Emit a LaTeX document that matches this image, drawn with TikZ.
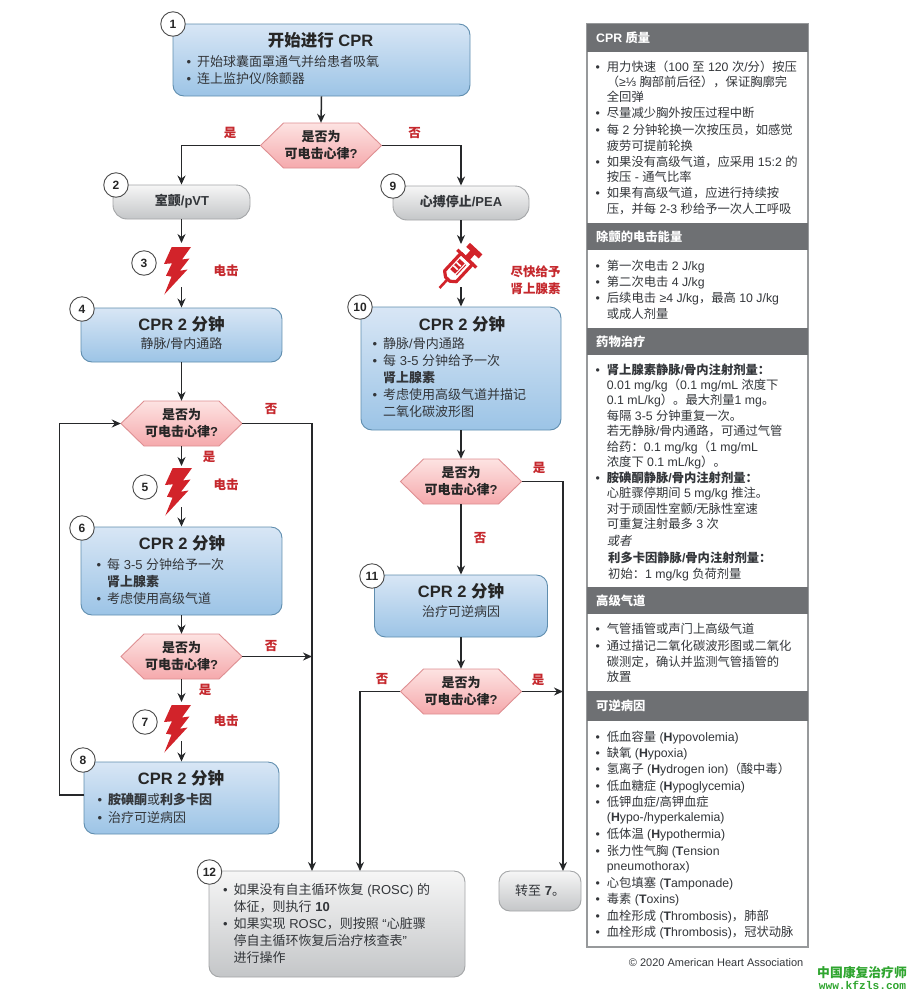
\documentclass[tikz,border=0pt]{standalone}
\usepackage{fontspec}
\setmainfont{Liberation Sans}
\setmonofont{Liberation Mono}
\newfontfamily\cjk{Noto Sans CJK SC}[AutoFakeSlant=0.2]
\usetikzlibrary{arrows.meta}
% automatic font switch for CJK characters
\chardef\cjkcls=7
\newcount\cjkc
\cjkc="2E80 \loop \XeTeXcharclass\cjkc=\cjkcls \advance\cjkc 1 \ifnum\cjkc<"A000 \repeat
\cjkc="FF00 \loop \XeTeXcharclass\cjkc=\cjkcls \advance\cjkc 1 \ifnum\cjkc<"FFF0 \repeat
\XeTeXinterchartoks 0 \cjkcls={\cjk}
\XeTeXinterchartoks 4095 \cjkcls={\cjk}
\XeTeXinterchartoks \cjkcls 0 ={\rmfamily}
\XeTeXinterchartoks \cjkcls 4095 ={\rmfamily}
\XeTeXinterchartokenstate=1

\definecolor{ink}{HTML}{33363A}
\definecolor{linec}{HTML}{26282A}
\definecolor{redt}{HTML}{C5282D}
\definecolor{bolt}{HTML}{D2232A}
\definecolor{headc}{HTML}{6E7073}
\definecolor{panelb}{HTML}{97999B}
\definecolor{wmk}{HTML}{2FA52F}
\definecolor{bt}{HTML}{D8E6F5}\definecolor{bm}{HTML}{C4DBF0}\definecolor{bb}{HTML}{9CC4E6}\definecolor{bd}{HTML}{5F8DAE}
\definecolor{gt}{HTML}{F6F6F6}\definecolor{gm}{HTML}{E6E7E8}\definecolor{gb}{HTML}{C4C6C8}\definecolor{gd}{HTML}{A3A5A7}
\definecolor{rt}{HTML}{FDE3E2}\definecolor{rb}{HTML}{F5A9AC}\definecolor{rd}{HTML}{DE8F92}

\tikzset{
  x=1pt,y=-1pt,
  conn/.style={draw=linec,line width=1.5pt,-{Stealth[length=9pt,width=8pt]}},
  blueb/.style={draw=bd,line width=.9pt,rounded corners=11pt,top color=bt,middle color=bm,bottom color=bb,inner sep=0pt},
  grayb/.style={draw=gd,line width=.9pt,rounded corners=11pt,top color=gt,middle color=gm,bottom color=gb,inner sep=0pt},
  pillb/.style={draw=gd,line width=.9pt,rounded corners=14pt,top color=gt,middle color=gm,bottom color=gb,inner sep=0pt},
  hexf/.style={draw=rd,line width=.9pt,top color=rt,bottom color=rb},
  hext/.style={inner sep=0pt,minimum width=121pt,minimum height=45pt,align=center,text=black!85,font=\fontsize{13}{17}\selectfont\bfseries},
  num/.style={circle,draw=black!70,fill=white,line width=.9pt,minimum size=24.5pt,inner sep=0pt,text=black!85,font=\fontsize{12}{12}\selectfont\bfseries},
  body/.style={anchor=base west,inner sep=0pt,text=ink,font=\fontsize{13}{15}\selectfont},
  mid/.style={anchor=base,inner sep=0pt,text=ink,font=\fontsize{13}{15}\selectfont},
  bhead/.style={anchor=base,inner sep=0pt,text=black!85,font=\fontsize{16.5}{18}\selectfont\bfseries},
  redl/.style={anchor=base,inner sep=0pt,text=redt,font=\fontsize{12.5}{15}\selectfont\bfseries},
  side/.style={anchor=base west,inner sep=0pt,text=ink,font=\fontsize{12.3}{15}\selectfont},
  head/.style={anchor=base west,inner sep=0pt,text=white,font=\fontsize{12.3}{15}\selectfont\bfseries},
}
\newcounter{tn}
% text helpers: #1 style, x, y (visual centre of the line)
\newcommand\tx[4]{\stepcounter{tn}\node[#1] (t\arabic{tn}) at ({#2},{#3+4.6}) {#4};}
\newcommand\sln[2]{\tx{side}{606.7}{#1}{#2}}
\newcommand\sbl[2]{\tx{side}{595.5}{#1}{•}\tx{side}{606.7}{#1}{#2}}
\newcommand\mbl[3]{\tx{body}{#1-10.5}{#2}{•}\tx{body}{#1}{#2}{#3}}
\newcommand\hdr[3]{\fill[headc] (587,#1) rectangle (808,#2); \tx{head}{596}{(#1+#2)/2}{#3}}
% box: style,name,x1,y1,x2,y2
\newcommand\bx[6]{\node[#1,minimum width=(#5-#3)*1pt,minimum height=(#6-#4)*1pt] (#2) at ({(#3+#5)/2},{(#4+#6)/2}) {};}
% hexagon: name,cx,cy,text
\newcommand\hx[4]{\path[hexf] (#2-60.5,#3) -- (#2-37.5,#3-22.5) -- (#2+37.5,#3-22.5) -- (#2+60.5,#3) -- (#2+37.5,#3+22.5) -- (#2-37.5,#3+22.5) -- cycle;
  \node[hext] (#1) at (#2,#3) {#4};}
\newcommand\nm[4]{\node[num] (#1) at (#2,#3) {#4};}
\newcommand\bolticon[2]{\fill[bolt,shift={(#1,#2)}] (7.7,0) -- (27,0) -- (18,12.5) -- (25.5,11.5) -- (16,23.7) -- (23.5,22.5) -- (0.3,47.5) -- (7.5,29.7) -- (2,28.7) -- (8,16.3) -- (0,17) -- cycle;}

\begin{document}
\begin{tikzpicture}
\useasboundingbox (0,0) rectangle (916,997);

% ---------- boxes ----------
\bx{blueb}{b1}{173}{24}{470}{96}
\bx{pillb}{b2}{113}{185}{250}{219}
\bx{pillb}{b9}{393}{186}{529}{220}
\bx{blueb}{b4}{81}{308}{282}{362}
\bx{blueb}{b10}{361}{307}{561}{430}
\bx{blueb}{b6}{81}{527}{282}{615}
\bx{blueb}{b11}{374.5}{575}{547.5}{637}
\bx{blueb}{b8}{84}{762}{279}{834}
\bx{grayb}{b12}{209}{871}{465}{977}
\bx{grayb}{b13}{499}{871}{581}{911}

% ---------- decisions ----------
\hx{h1}{321}{145.5}{是否为\\可电击心律?}
\hx{h2}{181.5}{423.5}{是否为\\可电击心律?}
\hx{h3}{181.5}{656.5}{是否为\\可电击心律?}
\hx{h4}{461}{481.5}{是否为\\可电击心律?}
\hx{h5}{461}{691.5}{是否为\\可电击心律?}

% ---------- icons ----------
\bolticon{164}{247}
\bolticon{165}{468}
\bolticon{164}{705}
\begin{scope}[shift={(460,266)},rotate=47]
  \draw[bolt,line width=2.6pt] (-30,0) -- (-17,0);
  \draw[bolt,line width=3.2pt,line join=round] (-18,-3) -- (-14,-8) -- (10,-8) -- (10,8) -- (-14,8) -- (-18,3) -- cycle;
  \fill[bolt] (-9,-5) rectangle (5,4);
  \fill[white] (-5,-5.2) rectangle (-3.4,.8) (-.5,-5.2) rectangle (1.1,.8) (-10,1.8) rectangle (6,2.9);
  \draw[bolt,line width=3.2pt] (10,-13) -- (10,13);
  \draw[bolt,line width=6pt] (10,0) -- (20,0);
  \draw[bolt,line width=5.5pt] (21,-8.5) -- (21,8.5);
\end{scope}

% ---------- free connector ends ----------
\coordinate (c3t) at (181.5,243);
\coordinate (c3b) at (181.5,287);
\coordinate (c5b) at (181.5,507);
\coordinate (c7t) at (181.5,702);
\coordinate (c7b) at (181.5,741);
\coordinate (s9t) at (461,244);
\coordinate (s9b) at (461,287);
\coordinate (c5t) at (181.5,466);
\coordinate (l8) at (84,795);
\coordinate (lk) at (59.5,423.5);
\coordinate (rv) at (312,423.5);
\coordinate (c563) at (563,871);
\coordinate (c360) at (360,871);
\coordinate (c312) at (312,871);

% ---------- connectors ----------
\draw[conn] (b1.south) -- (h1.north);
\draw[conn] (h1.west) -| (b2.north);
\draw[conn] (h1.east) -| (b9.north);
\draw[conn] (b2.south) -- (c3t);
\draw[conn] (c3b) -- (b4.north);
\draw[conn] (b4.south) -- (h2.north);
\draw[conn] (h2.south) -- (c5t);
\draw[conn] (c5b) -- (b6.north);
\draw[conn] (b6.south) -- (h3.north);
\draw[conn] (h3.south) -- (c7t);
\draw[conn] (c7b) -- (b8.north);
\draw[conn] (l8) -| (lk) -- (h2.west);
\draw[conn] (h2.east) -- (rv) -- (c312);
\draw[conn] (h3.east) -- (h3.east -| rv);
\draw[conn] (b9.south) -- (s9t);
\draw[conn] (s9b) -- (b10.north);
\draw[conn] (b10.south) -- (h4.north);
\draw[conn] (h4.south) -- (b11.north);
\draw[conn] (b11.south) -- (h5.north);
\draw[conn] (h4.east) -| (c563);
\draw[conn] (h5.east) -- (h5.east -| c563);
\draw[conn] (h5.west) -| (c360);

% ---------- step numbers ----------
\nm{n1}{173}{24}{1}
\nm{n2}{116}{185}{2}
\nm{n3}{144}{263}{3}
\nm{n4}{82}{309}{4}
\nm{n5}{145}{487}{5}
\nm{n6}{82}{528}{6}
\nm{n7}{145}{722}{7}
\nm{n8}{83}{760}{8}
\nm{n9}{393}{186}{9}
\nm{n10}{360}{307}{10}
\nm{n11}{372}{576}{11}
\nm{n12}{209.5}{872}{12}

% ---------- box text ----------
\tx{bhead}{320.5}{41.5}{开始进行 CPR}
\mbl{197}{61.5}{开始球囊面罩通气并给患者吸氧}
\mbl{197}{79}{连上监护仪/除颤器}
\tx{mid,font=\fontsize{13}{15}\selectfont\bfseries}{182}{201}{室颤/pVT}
\tx{mid,font=\fontsize{13}{15}\selectfont\bfseries}{461}{202}{心搏停止/PEA}
\tx{bhead}{181.5}{325.5}{CPR 2 分钟}
\tx{mid}{181.5}{344}{静脉/骨内通路}
\tx{bhead}{462}{325.5}{CPR 2 分钟}
\mbl{383}{344}{静脉/骨内通路}
\mbl{383}{361}{每 3-5 分钟给予一次}
\tx{body,font=\fontsize{13}{15}\selectfont\bfseries}{383}{378}{肾上腺素}
\mbl{383}{395}{考虑使用高级气道并描记}
\tx{body}{383}{412}{二氧化碳波形图}
\tx{bhead}{182}{545}{CPR 2 分钟}
\mbl{107}{565}{每 3-5 分钟给予一次}
\tx{body,font=\fontsize{13}{15}\selectfont\bfseries}{107}{582}{肾上腺素}
\mbl{107}{598.5}{考虑使用高级气道}
\tx{bhead}{461}{592.5}{CPR 2 分钟}
\tx{mid}{461}{612}{治疗可逆病因}
\tx{bhead}{181}{780}{CPR 2 分钟}
\tx{body}{97.5}{800}{•}
\stepcounter{tn}\node[body] (t\arabic{tn}) at (108,804.6) {\textbf{胺碘酮}或\textbf{利多卡因}};
\mbl{108}{818}{治疗可逆病因}
\mbl{233.5}{889.5}{如果没有自主循环恢复 (ROSC) 的}
\stepcounter{tn}\node[body] (t\arabic{tn}) at (233.5,911.6) {体征，则执行 \textbf{10}};
\mbl{233.5}{924}{如果实现 ROSC，则按照 “心脏骤}
\tx{body}{233.5}{941}{停自主循环恢复后治疗核查表”}
\tx{body}{233.5}{958}{进行操作}
\stepcounter{tn}\node[body] (t\arabic{tn}) at (515,895.6) {转至 \textbf{7}。};

% ---------- red labels ----------
\tx{redl}{230}{133}{是}
\tx{redl}{414.5}{133}{否}
\tx{redl}{226}{271}{电击}
\tx{redl}{535.5}{272}{尽快给予}
\tx{redl}{535.5}{289}{肾上腺素}
\tx{redl}{271}{409}{否}
\tx{redl}{209}{457}{是}
\tx{redl}{226}{485}{电击}
\tx{redl}{271}{646}{否}
\tx{redl}{205}{690}{是}
\tx{redl}{226}{721}{电击}
\tx{redl}{539}{468}{是}
\tx{redl}{480}{538}{否}
\tx{redl}{382}{679}{否}
\tx{redl}{538}{680}{是}

% ---------- side panel ----------
\draw[panelb,line width=1.2pt,fill=white] (587,24) rectangle (808,947);
\hdr{24}{52}{CPR 质量}
\sbl{67}{用力快速（100 至 120 次/分）按压}
\sln{82}{（≥⅓ 胸部前后径），保证胸廓完}
\sln{97}{全回弹}
\sbl{113}{尽量减少胸外按压过程中断}
\sbl{130}{每 2 分钟轮换一次按压员，如感觉}
\sln{146}{疲劳可提前轮换}
\sbl{162}{如果没有高级气道，应采用 15:2 的}
\sln{177}{按压 - 通气比率}
\sbl{193}{如果有高级气道，应进行持续按}
\sln{209}{压，并每 2-3 秒给予一次人工呼吸}
\hdr{223}{250}{除颤的电击能量}
\sbl{266}{第一次电击 2 J/kg}
\sbl{282}{第二次电击 4 J/kg}
\sbl{298}{后续电击 ≥4 J/kg，最高 10 J/kg}
\sln{314}{或成人剂量}
\hdr{328}{355}{药物治疗}
\sbl{370}{\textbf{肾上腺素静脉/骨内注射剂量：}}
\sln{385}{0.01 mg/kg（0.1 mg/mL 浓度下}
\sln{400}{0.1 mL/kg）。最大剂量1 mg。}
\sln{416}{每隔 3-5 分钟重复一次。}
\sln{431}{若无静脉/骨内通路，可通过气管}
\sln{447}{给药：0.1 mg/kg（1 mg/mL}
\sln{462}{浓度下 0.1 mL/kg）。}
\sbl{478}{\textbf{胺碘酮静脉/骨内注射剂量：}}
\sln{493}{心脏骤停期间 5 mg/kg 推注。}
\sln{509}{对于顽固性室颤/无脉性室速}
\sln{524}{可重复注射最多 3 次}
\sln{541}{\textit{或者}}
\tx{side}{608}{558}{\textbf{利多卡因静脉/骨内注射剂量：}}
\tx{side}{608}{574}{初始：1 mg/kg 负荷剂量}
\hdr{587}{614}{高级气道}
\sbl{629}{气管插管或声门上高级气道}
\sbl{646}{通过描记二氧化碳波形图或二氧化}
\sln{662}{碳测定，确认并监测气管插管的}
\sln{677}{放置}
\hdr{691}{721}{可逆病因}
\sbl{737}{低血容量 (\textbf{H}ypovolemia)}
\sbl{753}{缺氧 (\textbf{H}ypoxia)}
\sbl{769}{氢离子 (\textbf{H}ydrogen ion)（酸中毒）}
\sbl{786}{低血糖症 (\textbf{H}ypoglycemia)}
\sbl{802}{低钾血症/高钾血症}
\sln{817}{(\textbf{H}ypo-/hyperkalemia)}
\sbl{834}{低体温 (\textbf{H}ypothermia)}
\sbl{851}{张力性气胸 (\textbf{T}ension}
\sln{866}{pneumothorax)}
\sbl{883}{心包填塞 (\textbf{T}amponade)}
\sbl{899}{毒素 (\textbf{T}oxins)}
\sbl{916}{血栓形成 (\textbf{T}hrombosis)，肺部}
\sbl{932}{血栓形成 (\textbf{T}hrombosis)，冠状动脉}

% ---------- footer ----------
\node[anchor=base east,inner sep=0pt,text=ink,font=\fontsize{11}{13}\selectfont] (copy) at (803.5,966) {© 2020 American Heart Association};
\node[anchor=base,inner sep=0pt,text=wmk,font=\fontsize{12.8}{15}\selectfont\bfseries] (wm1) at (862,977) {中国康复治疗师};
\node[anchor=base,inner sep=0pt,text=wmk,font=\fontsize{11.2}{13}\selectfont\ttfamily\bfseries] (wm2) at (862.5,989) {www.kfzls.com};
\end{tikzpicture}
\end{document}
